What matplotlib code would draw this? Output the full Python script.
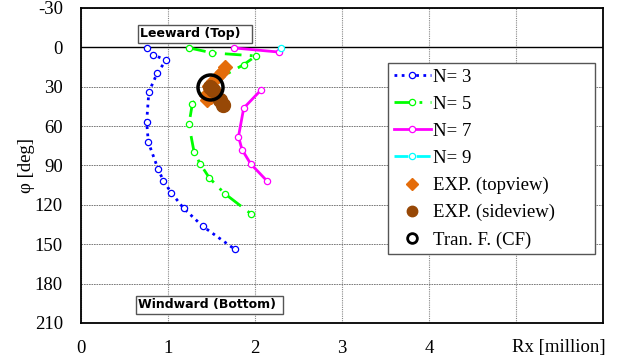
import numpy as np
import matplotlib.pyplot as plt
import matplotlib as mpl

mpl.rcParams['font.family'] = 'Liberation Serif'
mpl.rcParams['axes.unicode_minus'] = False

# N=3
rx3 = [0.755, 0.83, 0.977, 0.877, 0.78, 0.755, 0.774, 0.885, 0.946, 1.04, 1.18, 1.40, 1.77]
phi3 = [0.5, 5.6, 9.9, 19.6, 34, 56.7, 72.3, 92.6, 101.5, 111, 122.7, 136.4, 154]
# N=5
rx5 = [1.245, 1.51, 2.01, 1.87, 1.47, 1.28, 1.24, 1.30, 1.37, 1.475, 1.65, 1.95]
phi5 = [0.5, 4.3, 6.6, 13.2, 28, 43, 58.8, 79.9, 88.8, 99.5, 111.4, 126.7]
# N=7 (gap between the top pair and the rest)
rx7 = [1.76, 2.27, np.nan, 2.065, 1.87, 1.81, 1.85, 1.95, 2.14]
phi7 = [0.5, 3.6, np.nan, 32.8, 46.3, 68, 77.9, 88.8, 102]
# N=9
rx9 = [2.30]
phi9 = [0.5]
# experiments
rx_top = [1.655, 1.62, 1.575, 1.517, 1.47, 1.437, 1.448, 1.494]
phi_top = [15.3, 19.1, 22.1, 26, 29.8, 36.6, 40.5, 38.2]
rx_side = [1.48, 1.52, 1.60, 1.636]
phi_side = [30.3, 32.8, 40.5, 44.3]
# transfer function
rx_cf = [1.483]
phi_cf = [30.3]

fig = plt.figure(figsize=(6.18, 3.6), dpi=100)
ax = fig.add_axes([0.131, 0.103, 0.845, 0.875])

mk = dict(marker='o', markersize=4.5, markerfacecolor='white', markeredgewidth=0.9)
ax.plot(rx3, phi3, color='#0000FF', linestyle=(0, (1, 1.6)), linewidth=2, markeredgecolor='#0000FF', label='N= 3', **mk)
ax.plot(rx5, phi5, color='#00FF00', linestyle=(0, (6, 3, 1, 3)), linewidth=2, markeredgecolor='#00FF00', label='N= 5', **mk)
ax.plot(rx7, phi7, color='#FF00FF', linestyle='-', linewidth=2, markeredgecolor='#FF00FF', label='N= 7', **mk)
ax.plot(rx9, phi9, color='#00FFFF', linestyle=(0, (5, 3)), linewidth=2, markeredgecolor='#00FFFF', label='N= 9', **mk)
ax.plot(rx_top, phi_top, linestyle='none', marker='D', markersize=7.5, color='#E46C0A', label='EXP. (topview)')
ax.plot(rx_side, phi_side, linestyle='none', marker='o', markersize=10, color='#974806', label='EXP. (sideview)')
ax.plot(rx_cf, phi_cf, linestyle='none', marker='o', markersize=18, markerfacecolor='none',
        markeredgecolor='black', markeredgewidth=2.5, label='Tran. F. (CF)')

ax.axhline(0, color='black', linewidth=1, zorder=1)

ax.set_xlim(0, 6)
ax.set_ylim(210, -30)
ax.set_xticks(range(7))
ax.set_xticklabels(['0', '1', '2', '3', '4', '', ''])
ax.set_yticks(np.arange(-30, 211, 30))
ax.tick_params(direction='in', length=0, labelsize=13.5)
ax.tick_params(axis='x', pad=12)
ax.tick_params(axis='y', pad=13)

ax.grid(axis='y', color='#666666', linestyle=(0, (2, 1)), linewidth=0.6)
ax.grid(axis='x', color='#888888', linestyle=(0, (1, 1)), linewidth=0.8)
ax.set_axisbelow(True)
for s in ax.spines.values():
    s.set_linewidth(1.3)

ax.set_ylabel('φ [deg]', fontsize=13.5, labelpad=0)
fig.text(0.905, 0.036, 'Rx [million]', fontsize=13.5, ha='center', va='center')

box = dict(boxstyle='square,pad=0.2', facecolor='white', edgecolor='#555555', linewidth=1)
ax.text(0.68, -5.5, 'Leeward (Top)  ', fontsize=9, fontweight='bold', family='DejaVu Sans',
        ha='left', va='bottom', bbox=box)
ax.text(0.66, 201, 'Windward (Bottom) ', fontsize=9, fontweight='bold', family='DejaVu Sans',
        ha='left', va='bottom', bbox=box)

leg = ax.legend(loc='upper left', bbox_to_anchor=(0.588, 0.725, 0.397, 0.1), mode='expand',
                fontsize=13.5, handlelength=2.0, handletextpad=0.1, labelspacing=0.53,
                borderpad=0.3, borderaxespad=0, fancybox=False, edgecolor='#555555', framealpha=1)
leg.get_frame().set_linewidth(1)
hs = leg.legend_handles
hs[4].set_markersize(6)
hs[5].set_markersize(7.5)
hs[6].set_markersize(7)
hs[6].set_markeredgewidth(2)

fig.savefig('out.png', dpi=100)
